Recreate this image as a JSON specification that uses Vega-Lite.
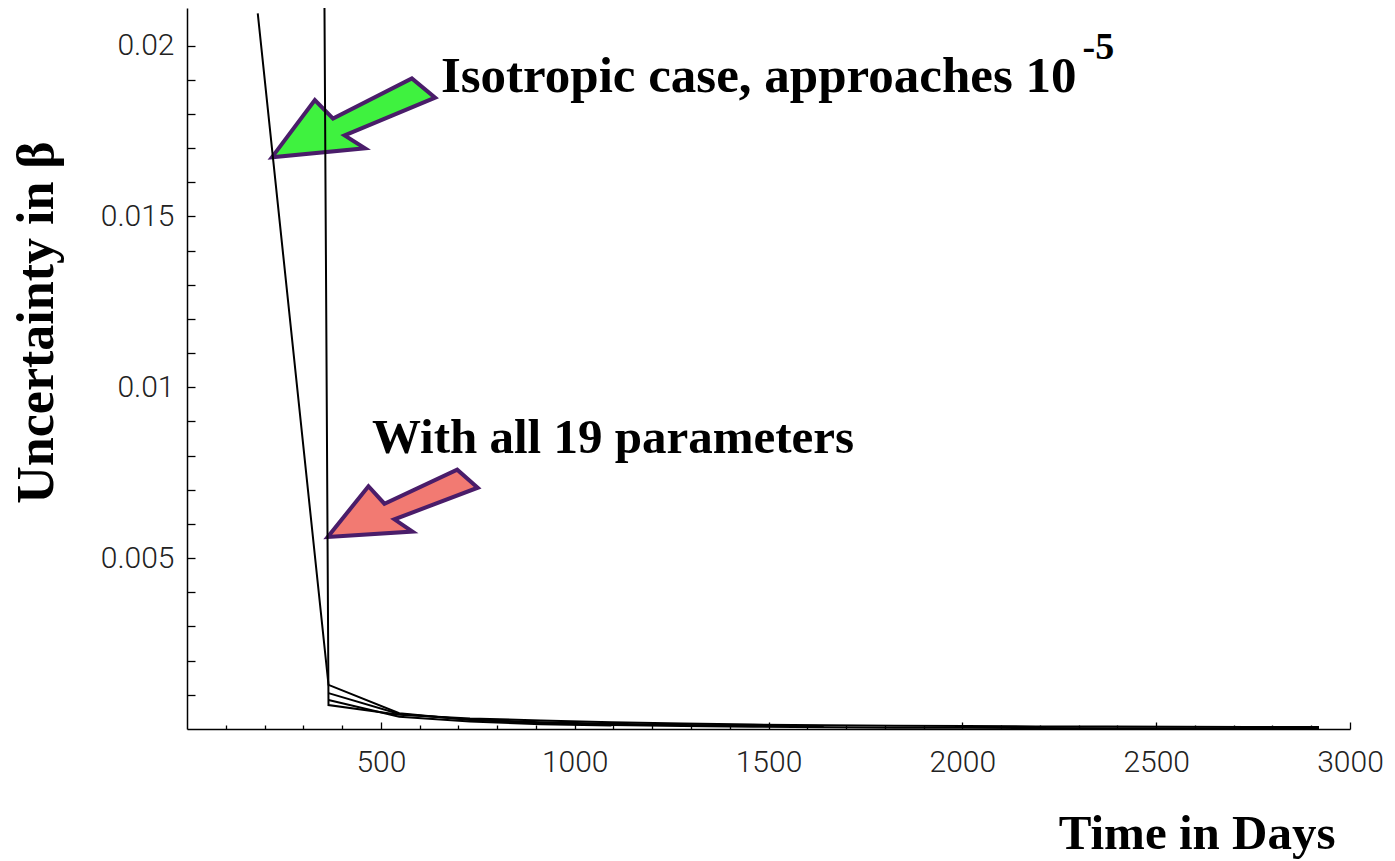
{
  "$schema": "https://vega.github.io/schema/vega-lite/v6.json",
  "autosize": "none",
  "width": 1163,
  "height": 721,
  "padding": {"left": 187, "top": 8, "right": 45, "bottom": 132},
  "background": "white",
  "config": {"view": {"stroke": null}},
  "datasets": {
    "curves": [
      {"t": 182.5, "v": 0.02094, "s": "Isotropic"},
      {"t": 365, "v": 0.00129, "s": "Isotropic"},
      {"t": 547.5, "v": 0.00046, "s": "Isotropic"},
      {"t": 730, "v": 0.00026, "s": "Isotropic"},
      {"t": 912.5, "v": 0.00017, "s": "Isotropic"},
      {"t": 1095, "v": 0.00012, "s": "Isotropic"},
      {"t": 1277.5, "v": 0.000085, "s": "Isotropic"},
      {"t": 1460, "v": 0.000065, "s": "Isotropic"},
      {"t": 1642.5, "v": 0.00005, "s": "Isotropic"},
      {"t": 1825, "v": 0.00004, "s": "Isotropic"},
      {"t": 2007.5, "v": 0.000033, "s": "Isotropic"},
      {"t": 2190, "v": 0.000028, "s": "Isotropic"},
      {"t": 2372.5, "v": 0.000024, "s": "Isotropic"},
      {"t": 2555, "v": 0.00002, "s": "Isotropic"},
      {"t": 2737.5, "v": 0.000017, "s": "Isotropic"},
      {"t": 2920, "v": 0.000015, "s": "Isotropic"},
      {"t": 182.5, "v": 0.36, "s": "All 19"},
      {"t": 365, "v": 0.0007, "s": "All 19"},
      {"t": 547.5, "v": 0.00042, "s": "All 19"},
      {"t": 730, "v": 0.00031, "s": "All 19"},
      {"t": 912.5, "v": 0.00025, "s": "All 19"},
      {"t": 1095, "v": 0.0002, "s": "All 19"},
      {"t": 1277.5, "v": 0.00016, "s": "All 19"},
      {"t": 1460, "v": 0.00013, "s": "All 19"},
      {"t": 1642.5, "v": 0.00011, "s": "All 19"},
      {"t": 1825, "v": 0.000095, "s": "All 19"},
      {"t": 2007.5, "v": 0.000085, "s": "All 19"},
      {"t": 2190, "v": 0.000075, "s": "All 19"},
      {"t": 2372.5, "v": 0.00007, "s": "All 19"},
      {"t": 2555, "v": 0.000065, "s": "All 19"},
      {"t": 2737.5, "v": 0.00006, "s": "All 19"},
      {"t": 2920, "v": 0.000055, "s": "All 19"},
      {"t": 365, "v": 0.00105, "s": "C"},
      {"t": 547.5, "v": 0.00044, "s": "C"},
      {"t": 730, "v": 0.00028, "s": "C"},
      {"t": 912.5, "v": 0.0002, "s": "C"},
      {"t": 1095, "v": 0.00015, "s": "C"},
      {"t": 1277.5, "v": 0.00012, "s": "C"},
      {"t": 1460, "v": 0.0001, "s": "C"},
      {"t": 1642.5, "v": 0.00009, "s": "C"},
      {"t": 365, "v": 0.00085, "s": "D"},
      {"t": 547.5, "v": 0.00036, "s": "D"},
      {"t": 730, "v": 0.00022, "s": "D"},
      {"t": 912.5, "v": 0.00014, "s": "D"},
      {"t": 1095, "v": 0.0001, "s": "D"}
    ],
    "arrowIso": [{"t": 424, "v": 0.0178}],
    "arrowAll": [{"t": 552, "v": 0.00652}],
    "labelIso": [{"t": 655, "v": 0.01863, "txt": "Isotropic case, approaches 10"}],
    "labelExp": [{"t": 2310, "v": 0.01962, "txt": "-5"}],
    "labelAll": [{"t": 477, "v": 0.00808, "txt": "With all 19 parameters"}]
  },
  "encoding": {
    "x": {
      "field": "t", "type": "quantitative",
      "scale": {"domain": [0, 3000], "nice": false, "zero": false},
      "axis": {
        "title": "Time in Days",
        "values": [100,200,300,400,500,600,700,800,900,1000,1100,1200,1300,1400,1500,1600,1700,1800,1900,2000,2100,2200,2300,2400,2500,2600,2700,2800,2900,3000],
        "labelExpr": "datum.value % 500 === 0 ? format(datum.value, 'd') : ''",
        "labelOverlap": false,
        "labelFlush": false,
        "labelFont": "Roboto",
        "labelFontWeight": 300,
        "labelFontSize": 30,
        "labelColor": "#222222",
        "labelPadding": 25,
        "grid": false,
        "domainColor": "black",
        "domainWidth": 1.5,
        "tickColor": "black",
        "tickWidth": 1.3,
        "tickSize": {"condition": {"test": "datum.value % 500 === 0", "value": -7}, "value": -4},
        "titleFont": "Liberation Serif",
        "titleFontWeight": "bold",
        "titleFontSize": 49,
        "titleColor": "black",
        "titleAlign": "right",
        "titleBaseline": "alphabetic",
        "titleX": 1148,
        "titleY": 119
      }
    },
    "y": {
      "field": "v", "type": "quantitative",
      "scale": {"domain": [0, 0.0211], "nice": false, "zero": false},
      "axis": {
        "title": "Uncertainty in β",
        "values": [0.001,0.002,0.003,0.004,0.005,0.006,0.007,0.008,0.009,0.01,0.011,0.012,0.013,0.014,0.015,0.016,0.017,0.018,0.019,0.02],
        "labelExpr": "round(datum.value * 1000) % 5 === 0 ? format(datum.value, '~g') : ''",
        "labelOverlap": false,
        "labelFlush": false,
        "labelFont": "Roboto",
        "labelFontWeight": 300,
        "labelFontSize": 30,
        "labelColor": "#222222",
        "labelPadding": 21,
        "grid": false,
        "domainColor": "black",
        "domainWidth": 1.5,
        "tickColor": "black",
        "tickWidth": 1.3,
        "tickSize": -8,
        "titleFont": "Liberation Serif",
        "titleFontWeight": "bold",
        "titleFontSize": 52,
        "titleColor": "black",
        "titleAngle": -90,
        "titleAlign": "center",
        "titleBaseline": "alphabetic",
        "titleX": -135,
        "titleY": 314
      }
    }
  },
  "layer": [
    {
      "data": {"name": "arrowIso"},
      "mark": {"type": "point", "filled": true, "opacity": 1, "fill": "#3ff23f", "stroke": "#4a1d6a", "strokeWidth": 4, "strokeJoin": "miter", "size": 30625, "angle": -24.7,
        "shape": "M -1 0 L -0.28 -0.39 L -0.18 -0.11 L 0.83 -0.15 L 0.98 0.16 L -0.14 0.12 L 0.01 0.35 Z"}
    },
    {
      "data": {"name": "arrowAll"},
      "mark": {"type": "point", "filled": true, "opacity": 1, "fill": "#f27a72", "stroke": "#4a1d6a", "strokeWidth": 4, "strokeJoin": "miter", "size": 25281, "angle": -22.8,
        "shape": "M -1 0 L -0.28 -0.39 L -0.18 -0.11 L 0.83 -0.15 L 0.98 0.16 L -0.14 0.12 L 0.01 0.35 Z"}
    },
    {
      "data": {"name": "curves"},
      "mark": {"type": "line", "clip": true, "color": "black", "strokeWidth": 2},
      "encoding": {"detail": {"field": "s", "type": "nominal"}, "order": {"field": "t", "type": "quantitative"}}
    },
    {
      "data": {"name": "labelIso"},
      "mark": {"type": "text", "align": "left", "baseline": "alphabetic", "font": "Liberation Serif", "fontWeight": "bold", "fontSize": 51, "color": "black"},
      "encoding": {"text": {"field": "txt"}}
    },
    {
      "data": {"name": "labelExp"},
      "mark": {"type": "text", "align": "left", "baseline": "alphabetic", "font": "Liberation Serif", "fontWeight": "bold", "fontSize": 38, "color": "black"},
      "encoding": {"text": {"field": "txt"}}
    },
    {
      "data": {"name": "labelAll"},
      "mark": {"type": "text", "align": "left", "baseline": "alphabetic", "font": "Liberation Serif", "fontWeight": "bold", "fontSize": 49, "color": "black"},
      "encoding": {"text": {"field": "txt"}}
    }
  ]
}
